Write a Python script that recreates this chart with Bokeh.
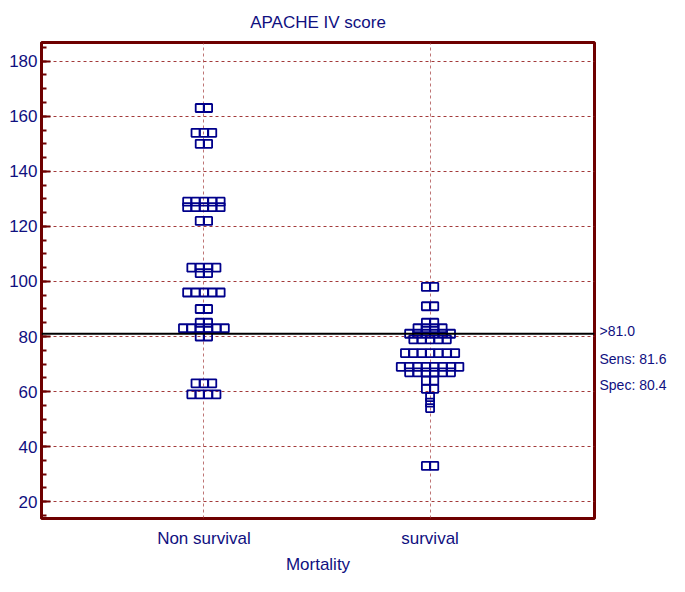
from bokeh.plotting import figure
from bokeh.models import FixedTicker, Span, ColumnDataSource, LinearAxis
from bokeh.embed import file_html
from bokeh.resources import INLINE

# ---- data ----
categories = ["Non survival", "survival"]
ns_values = [163, 154, 150, 129, 127, 122, 105, 103, 96, 90, 85, 83, 80, 63, 59]
ns_counts = [2, 3, 2, 5, 5, 2, 4, 2, 5, 2, 2, 6, 2, 3, 4]
s_values = [98, 91, 85, 83, 81, 79, 74, 69, 67, 64, 61, 58, 56, 54, 33]
s_counts = [2, 2, 2, 4, 6, 5, 7, 8, 6, 2, 2, 1, 1, 1, 2]
cutoff = 81.0
sens = 81.6
spec = 80.4
y_ticks = [20, 40, 60, 80, 100, 120, 140, 160, 180]

FONT = "Liberation Sans"
NAVY = "#10107f"
MAROON = "#6e0000"
GRID = "#a33a3a"

def swarm(center, values, counts, dx=0.037):
    xs, ys = [], []
    for v, n in zip(values, counts):
        for i in range(n):
            xs.append(center + (i - (n - 1) / 2) * dx)
            ys.append(v)
    return xs, ys

p = figure(width=669, height=576, x_range=(0.282, 2.727), y_range=(13.9, 186.8),
           output_backend="svg", toolbar_location=None,
           min_border_left=41, min_border_right=73, min_border_top=42, min_border_bottom=56)

p.title.text = "APACHE IV score"
p.title.align = "center"
p.title.text_font = FONT
p.title.text_font_size = "17px"
p.title.text_font_style = "normal"
p.title.text_color = NAVY
p.title.standoff = 21

p.outline_line_color = MAROON
p.outline_line_width = 3
p.outline_line_alpha = 1

# grids
p.ygrid.ticker = FixedTicker(ticks=y_ticks)
p.ygrid.grid_line_color = GRID
p.ygrid.grid_line_dash = "3 3"
p.ygrid.grid_line_width = 1
p.xgrid.ticker = FixedTicker(ticks=[1, 2])
p.xgrid.grid_line_color = GRID
p.xgrid.grid_line_dash = "3 3"
p.xgrid.grid_line_alpha = 0.7

# y axis
p.yaxis.ticker = FixedTicker(ticks=y_ticks, minor_ticks=list(range(15, 186, 5)))
p.yaxis.axis_line_color = MAROON
p.yaxis.axis_line_width = 3
p.yaxis.major_tick_line_color = MAROON
p.yaxis.major_tick_line_width = 2
p.yaxis.major_tick_in = 9
p.yaxis.major_tick_out = 0
p.yaxis.minor_tick_line_color = MAROON
p.yaxis.minor_tick_line_width = 2
p.yaxis.minor_tick_in = 5
p.yaxis.minor_tick_out = 0
p.yaxis.major_label_text_font = FONT
p.yaxis.major_label_text_font_size = "17px"
p.yaxis.major_label_text_color = NAVY
p.yaxis.major_label_standoff = 4

# x axis
p.xaxis.ticker = FixedTicker(ticks=[1, 2])
p.xaxis.major_label_overrides = {1: categories[0], 2: categories[1]}
p.xaxis.axis_line_color = None
p.xaxis.major_tick_line_color = None
p.xaxis.major_tick_out = 0
p.xaxis.major_tick_in = 0
p.xaxis.minor_tick_line_color = None
p.xaxis.major_label_text_font = FONT
p.xaxis.major_label_text_font_size = "17px"
p.xaxis.major_label_text_color = NAVY
p.xaxis.major_label_standoff = 10
p.xaxis.axis_label = "Mortality"
p.xaxis.axis_label_text_font = FONT
p.xaxis.axis_label_text_font_size = "17px"
p.xaxis.axis_label_text_font_style = "normal"
p.xaxis.axis_label_text_color = NAVY
p.xaxis.axis_label_standoff = 4

# cutoff line
p.add_layout(Span(location=cutoff, dimension="width", line_color="black", line_width=2))

# points
x1, y1 = swarm(1, ns_values, ns_counts)
x2, y2 = swarm(2, s_values, s_counts)
src = ColumnDataSource(dict(x=x1 + x2, y=y1 + y2))
p.scatter("x", "y", source=src, marker="square", size=8, fill_color=None,
          line_color="#00008b", line_width=1.8)

# right-side annotation texts (as a label-only axis)
ann_y = [82.1, 72.0, 62.3]
ann_text = [">%.1f" % cutoff, "Sens: %.1f" % sens, "Spec: %.1f" % spec]
ra = LinearAxis(ticker=FixedTicker(ticks=ann_y),
                major_label_overrides={yv: t for yv, t in zip(ann_y, ann_text)})
ra.axis_line_color = None
ra.major_tick_line_color = None
ra.major_tick_in = 0
ra.major_tick_out = 0
ra.minor_tick_line_color = None
ra.major_label_standoff = 5
ra.major_label_text_font = FONT
ra.major_label_text_font_size = "14px"
ra.major_label_text_color = NAVY
p.add_layout(ra, "right")

open("out.html", "w").write(file_html(p, INLINE))
